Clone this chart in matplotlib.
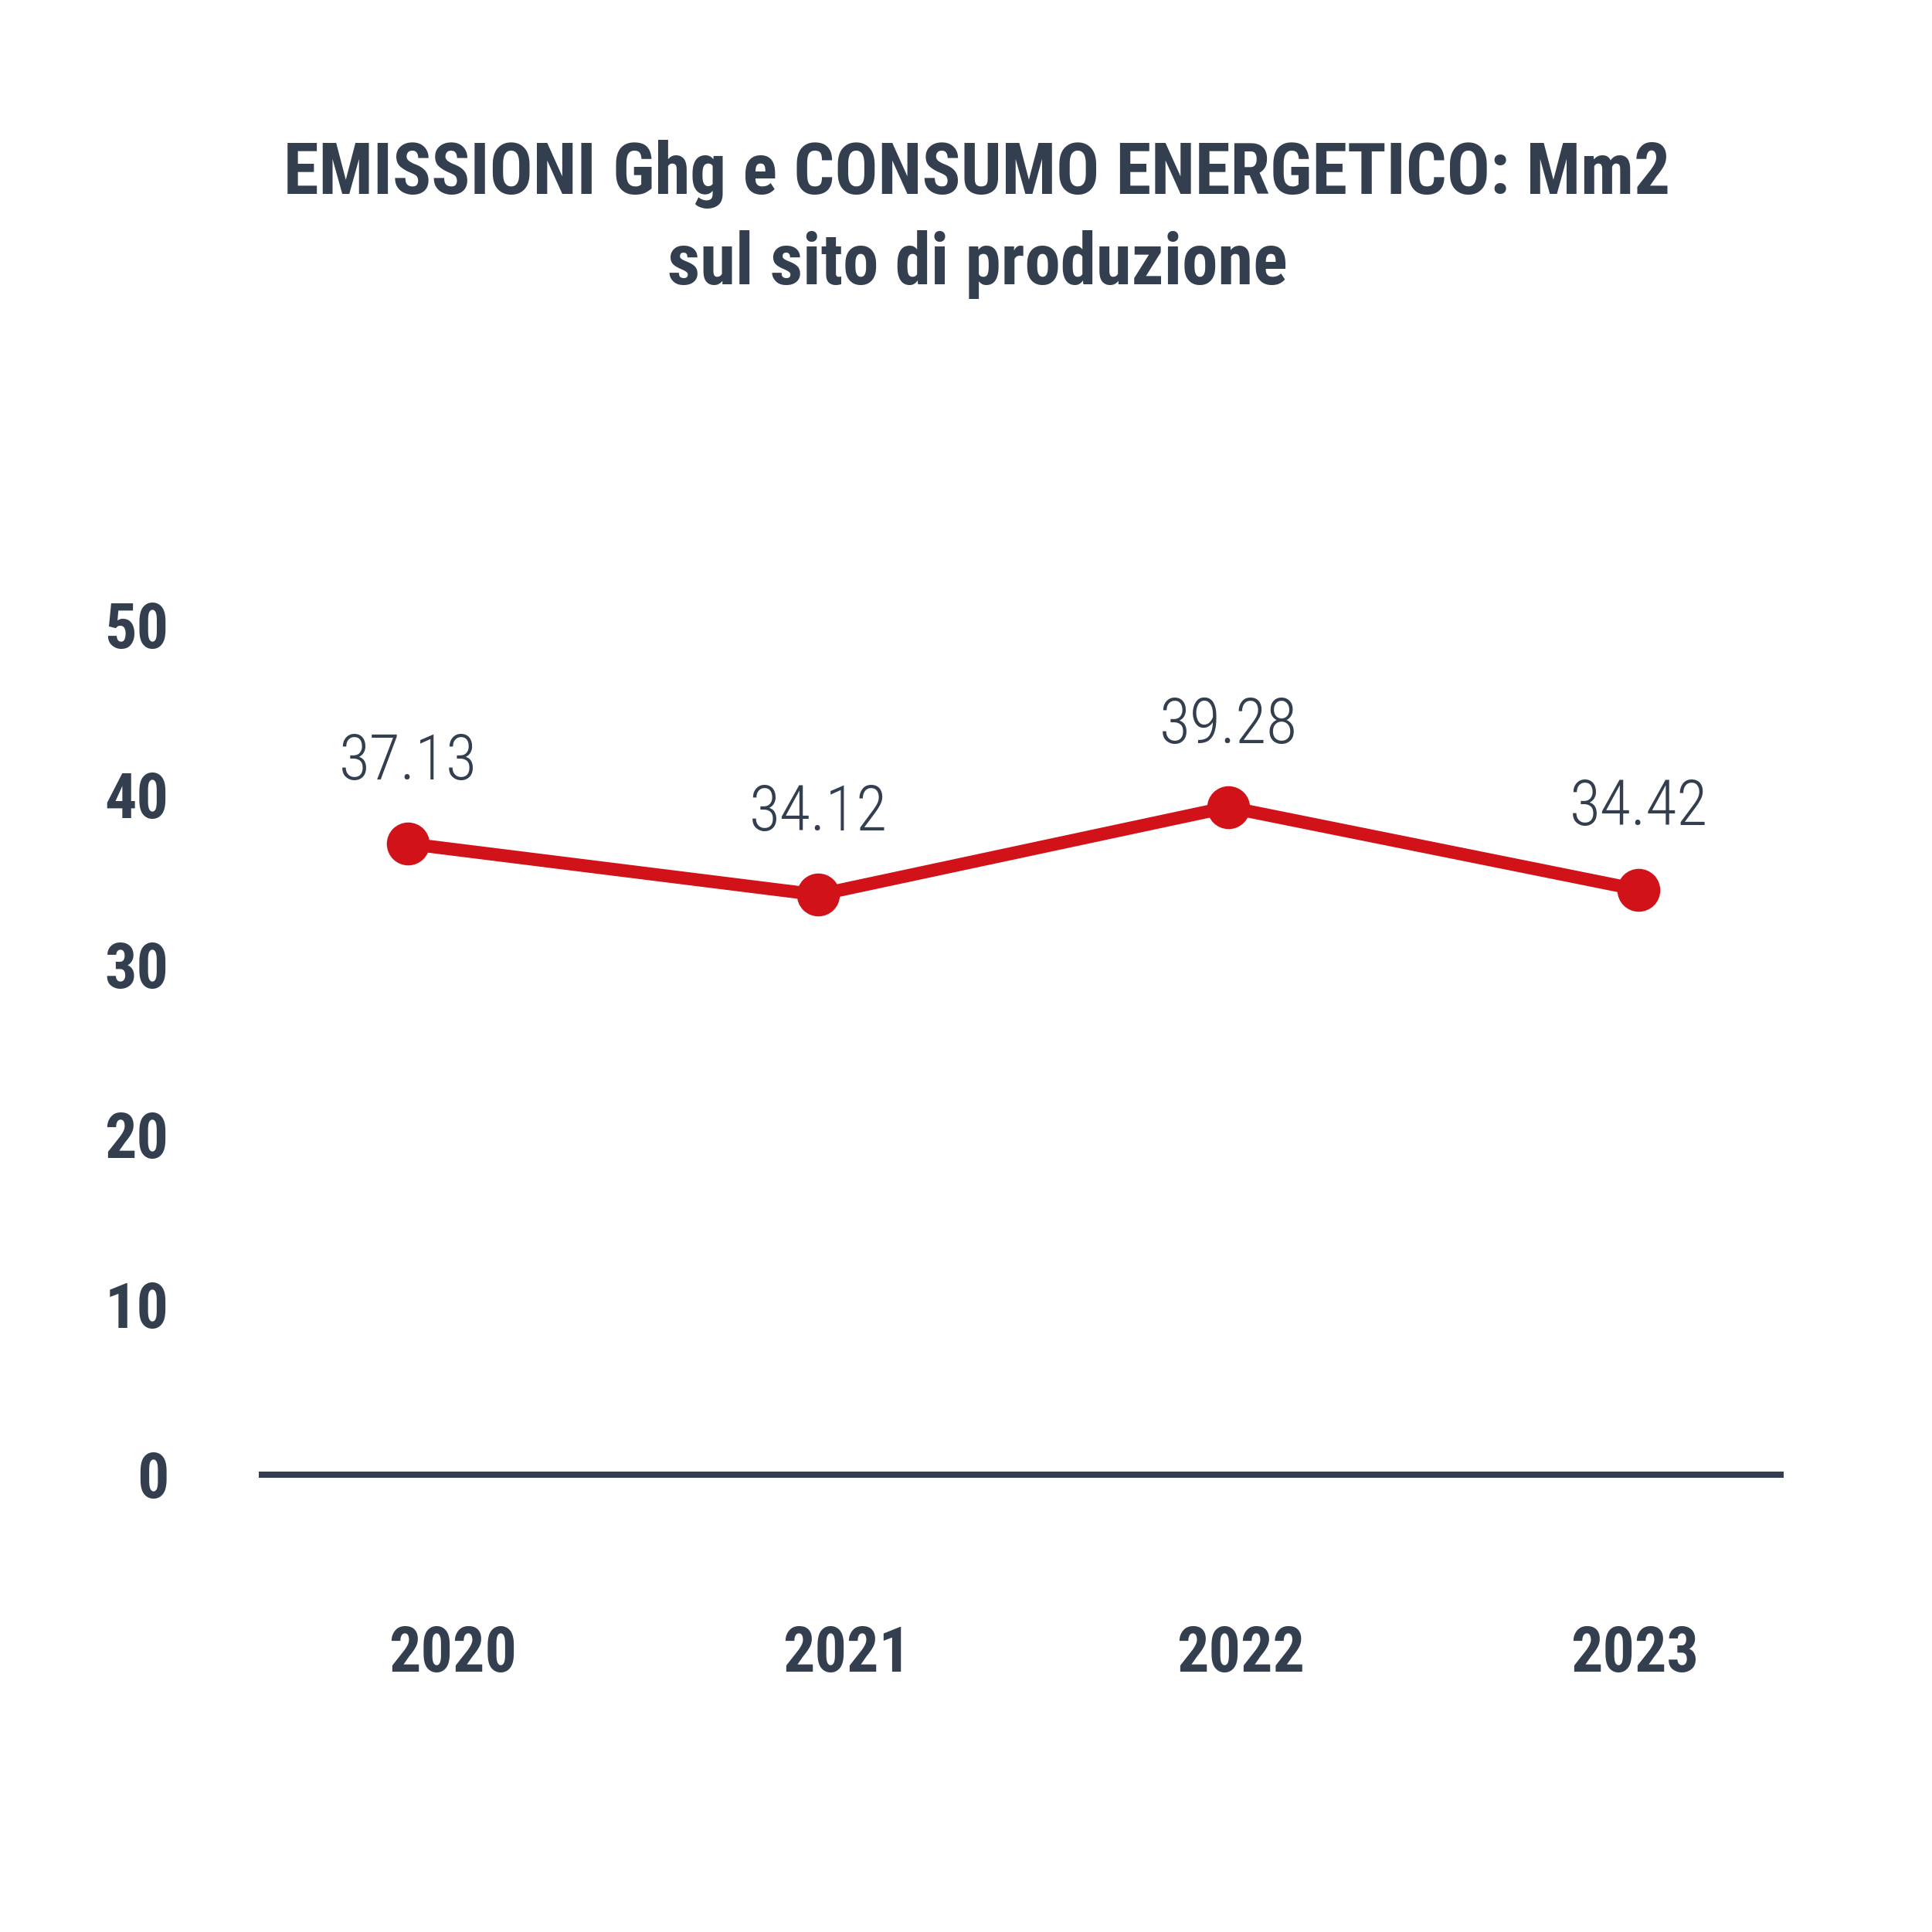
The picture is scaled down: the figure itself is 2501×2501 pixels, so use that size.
import matplotlib
matplotlib.use("Agg")
import matplotlib.pyplot as plt
import numpy as np

# ---- data ----
years = ["2020", "2021", "2022", "2023"]
values = [37.13, 34.12, 39.28, 34.42]
value_labels = ["37.13", "34.12", "39.28", "34.42"]
y_ticks = [0, 10, 20, 30, 40, 50]
title = "EMISSIONI Ghg e CONSUMO ENERGETICO: Mm2\nsul sito di produzione"

# ---- style ----
TEXT = "#333F4E"
RED = "#D21219"
FONT = "Roboto Condensed"

W = H = 2501
fig = plt.figure(figsize=(W / 100, H / 100), dpi=100)
fig.patch.set_facecolor("white")

left_px, right_px = 335, 2309
bottom_px = 1909
ymax = 55
px_per_unit = 22.0
top_px = bottom_px - ymax * px_per_unit
ax = fig.add_axes([left_px / W, 1 - bottom_px / H,
                   (right_px - left_px) / W, (bottom_px - top_px) / H])

idx = np.arange(len(years))
ax.plot(idx, values, color=RED, lw=12, marker="o", markersize=39,
        solid_joinstyle="round", solid_capstyle="round", zorder=3, clip_on=False)

for i, (v, lab) in enumerate(zip(values, value_labels)):
    ax.annotate(lab, (i, v), xytext=(0, 60), textcoords="offset points",
                ha="center", va="baseline", fontsize=59, color=TEXT,
                family=FONT, weight=300)

ax.set_xlim(-0.3635, 3.354)
ax.set_ylim(0, ymax)

ax.set_yticks(y_ticks)
ax.set_yticklabels([str(t) for t in y_ticks])
ax.set_xticks(idx * 0.96 + 0.11)
ax.set_xticklabels(years)

for lab in ax.get_yticklabels() + ax.get_xticklabels():
    lab.set_fontfamily(FONT)
    lab.set_fontweight("bold")
    lab.set_fontsize(59)
    lab.set_color(TEXT)

ax.tick_params(axis="y", length=0, pad=84)
ax.tick_params(axis="x", length=0, pad=140)

for s in ["top", "right", "left"]:
    ax.spines[s].set_visible(False)
ax.spines["bottom"].set_color(TEXT)
ax.spines["bottom"].set_linewidth(5.8)
ax.spines["bottom"].set_capstyle("butt")
ax.set_facecolor("none")

fig.text(1265 / W, 1 - 181 / H, title, ha="center", va="top",
         fontsize=67, fontweight="bold", family=FONT, color=TEXT,
         linespacing=1.4, multialignment="center")

fig.savefig("out.png", dpi=100, facecolor="white")
